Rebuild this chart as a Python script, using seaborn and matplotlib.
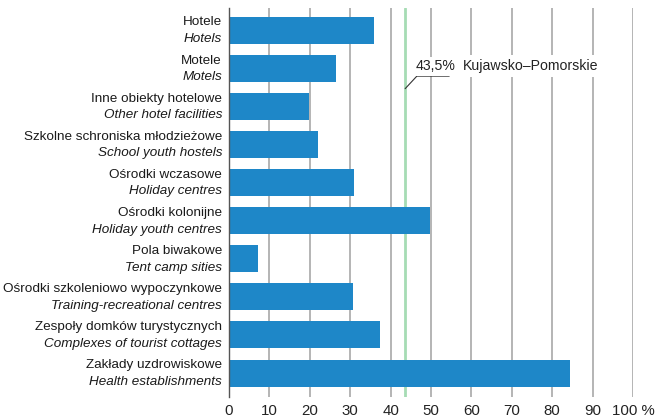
import matplotlib
matplotlib.use("Agg")
import matplotlib.pyplot as plt
import matplotlib.transforms as mtransforms
import seaborn as sns
import pandas as pd

labels_pl = ["Hotele", "Motele", "Inne obiekty hotelowe", "Szkolne schroniska młodzieżowe",
             "Ośrodki wczasowe", "Ośrodki kolonijne", "Pola biwakowe",
             "Ośrodki szkoleniowo wypoczynkowe", "Zespoły domków turystycznych",
             "Zakłady uzdrowiskowe"]
labels_en = ["Hotels", "Motels", "Other hotel facilities", "School youth hostels",
             "Holiday centres", "Holiday youth centres", "Tent camp sities",
             "Training-recreational centres", "Complexes of tourist cottages",
             "Health establishments"]
values = [35.9, 26.4, 19.9, 22.0, 30.9, 49.8, 7.1, 30.7, 37.4, 84.4]
region_value = 43.5
region_label = "43,5%"
region_name = "Kujawsko–Pomorskie"
xticks = [0, 10, 20, 30, 40, 50, 60, 70, 80, 90, 100]
xtick_labels = ["0", "10", "20", "30", "40", "50", "60", "70", "80", "90", "100 %"]

sns.set_style("white")
plt.rcParams['font.family'] = ['Liberation Sans', 'DejaVu Sans']

df = pd.DataFrame({"cat": labels_en, "val": values})

fig = plt.figure(figsize=(6.63, 4.2), dpi=100)
ax = fig.add_axes([229/663, 23/420, (633-229)/663, 389/420])

sns.barplot(data=df, x="val", y="cat", orient="h", color="#1e87c8",
            saturation=1, width=0.71, ax=ax, zorder=3, edgecolor="none")

ax.set_xlim(0, 100)
ax.set_ylim(9.63, -0.59)
for s in ["top", "right", "bottom"]:
    ax.spines[s].set_visible(False)
ax.spines["left"].set_color("#555555")
ax.spines["left"].set_linewidth(1.0)
ax.spines["left"].set_zorder(4)

for xv in xticks[1:]:
    ax.axvline(xv, color="#a0a0a0", lw=1.1, zorder=1)

ax.axvline(region_value, color="#a6dcb4", lw=2.0, zorder=2)

ax.set_xticks(xticks)
ax.set_xticklabels(xtick_labels, fontsize=10.8, color="#222222")
ax.tick_params(axis="x", length=0, pad=5)
ax.set_yticks([])
ax.set_xlabel("")
ax.set_ylabel("")
for lab in ax.get_xticklabels():
    lab.set_clip_on(False)

trans = mtransforms.blended_transform_factory(ax.transAxes, ax.transData)
off = mtransforms.ScaledTranslation(-7/100, 0, fig.dpi_scale_trans)
for i, (pl, en) in enumerate(zip(labels_pl, labels_en)):
    ax.text(0, i - 0.21, pl, transform=trans + off, ha="right", va="center",
            fontsize=9.7, color="#1a1a1a")
    ax.text(0, i + 0.23, en, transform=trans + off, ha="right", va="center",
            fontsize=9.7, style="italic", color="#1a1a1a")

# annotation for the region average
ax.plot([region_value + 0.1, region_value + 3.0, region_value + 11.0],
        [1.53, 1.20, 1.20], color="#333333", lw=0.8, zorder=5)
ax.text(region_value + 2.7, 1.13, region_label, ha="left", va="bottom", fontsize=10.2,
        color="#222222", zorder=6,
        bbox=dict(facecolor="white", edgecolor="none", pad=1.5))
ax.text(region_value + 14.4, 0.93, region_name, ha="left", va="center", fontsize=10.2,
        color="#222222", zorder=6,
        bbox=dict(facecolor="white", edgecolor="none", pad=3))

fig.savefig("out.png", dpi=100)
